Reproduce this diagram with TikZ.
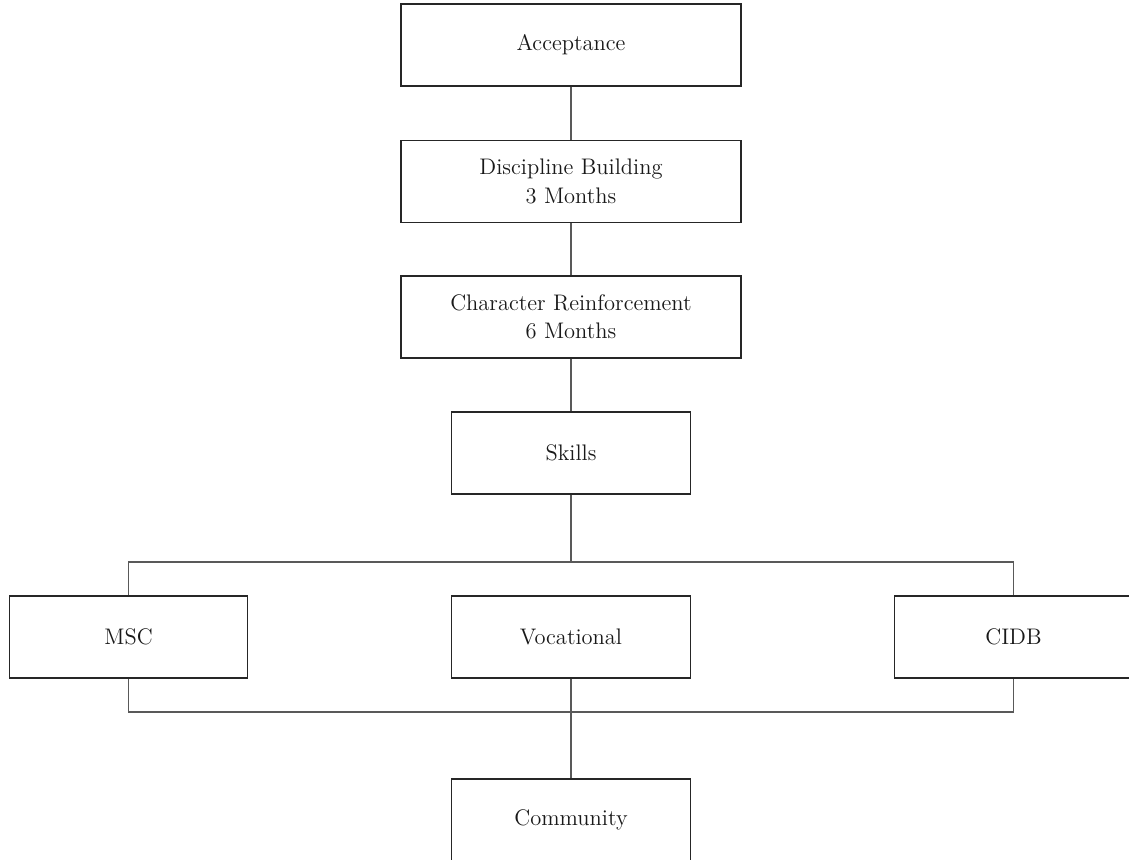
\documentclass[tikz,border=0pt]{standalone}

\begin{document}
\begin{tikzpicture}[scale=1]
\tikzstyle{box} = [draw = black!85, line width = 0.75pt, fill = white, text = black!90, align = center, inner sep = 0pt, minimum height = 1.64cm, font = \fontsize{12.8}{16}\selectfont]
\tikzstyle{wide} = [box, minimum width = 6.8cm]
\tikzstyle{narrow} = [box, minimum width = 4.77cm]
\tikzstyle{link} = [draw = black!65, line width = 0.75pt]

\useasboundingbox (0,0) rectangle (22.58,17.18);

\node[wide] (acc) at (11.42,16.28) {Acceptance};
\node[wide] (disc) at (11.42,13.55) {Discipline Building\\3 Months};
\node[wide] (char) at (11.42,10.84) {Character Reinforcement\\6 Months};
\node[narrow] (skills) at (11.42,8.12) {Skills};

\node[narrow] (msc) at (2.57,4.44) {MSC};
\node[narrow] (voc) at (11.42,4.44) {Vocational};
\node[narrow] (cidb) at (20.27,4.44) {CIDB};

\node[narrow] (comm) at (11.42,0.78) {Community};

\coordinate (split) at (11.42,5.94);
\coordinate (join) at (11.42,2.94);

\draw[link] (acc) -- (disc);
\draw[link] (disc) -- (char);
\draw[link] (char) -- (skills);
\draw[link] (skills) -- (split);
\draw[link] (msc) |- (split) -| (cidb);

%\draw[link] (split) -- (voc);
\draw[link] (msc) |- (join) -| (cidb);
\draw[link] (voc) -- (comm);

\end{tikzpicture}
\end{document}
